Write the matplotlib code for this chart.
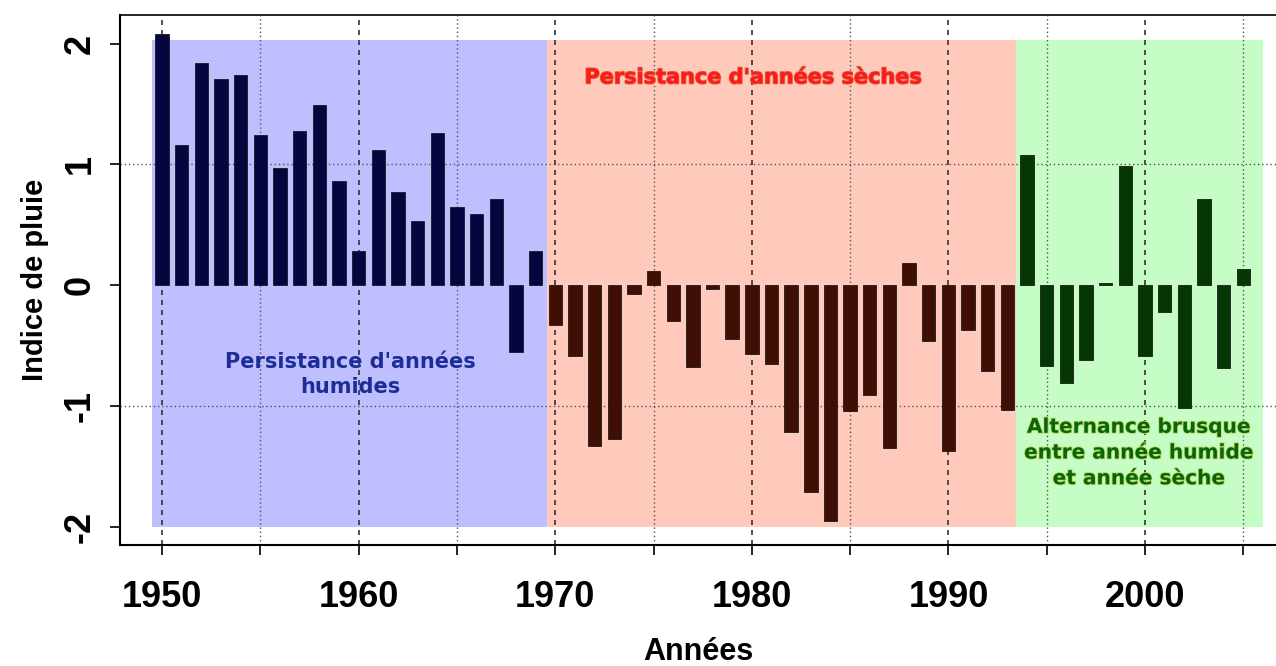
import numpy as np
import matplotlib.pyplot as plt
from matplotlib import font_manager
import matplotlib.patheffects as pe

# Indice de pluie annuel
annees = list(range(1950, 2006))
indice = [2.08, 1.16, 1.84, 1.71, 1.74, 1.24, 0.97, 1.28, 1.49, 0.86,
          0.28, 1.12, 0.77, 0.53, 1.26, 0.65, 0.59, 0.71, -0.55, 0.28,
          -0.33, -0.59, -1.33, -1.27, -0.07, 0.12, -0.30, -0.68, -0.03, -0.45,
          -0.57, -0.65, -1.22, -1.71, -1.95, -1.04, -0.91, -1.35, 0.18, -0.46,
          -1.37, -0.37, -0.71, -1.03,
          1.08, -0.67, -0.81, -0.62, 0.02, 0.99, -0.59, -0.22, -1.02, 0.71,
          -0.69, 0.13]

# Périodes (début, fin) et couleurs
periodes = [(1949.5, 1969.6), (1969.6, 1993.45), (1993.45, 2006.0)]
fonds = ['#bfbfff', '#ffc9bb', '#c6fcc6']
couleurs_barres = ['#05053f', '#3f0e05', '#053705']

textes = ["Persistance d'années\nhumides",
          "Persistance d'années sèches",
          "Alternance brusque\nentre année humide\net année sèche"]
couleurs_textes = ['#1c2c98', '#ff1a1a', '#0a640a']

yticks = [-2, -1, 0, 1, 2]
xticks_maj = [1950, 1960, 1970, 1980, 1990, 2000]

installees = {f.name for f in font_manager.fontManager.ttflist}
narrow = 'Liberation Sans Narrow' in installees

fig = plt.figure(figsize=(12.76, 6.66), dpi=100)
ax = fig.add_axes([0.094, 0.182, 0.906, 0.796])

# fonds colorés
for (a, b), c in zip(periodes, fonds):
    ax.fill_between([a, b], -2.0, 2.03, color=c, lw=0, zorder=0)

# grilles
for x in range(1950, 2010, 5):
    if x % 10 == 0:
        ax.axvline(x, color='#333333', lw=1.2, ls=(0, (3, 3)), zorder=1)
    else:
        ax.axvline(x, color='#555555', lw=1.0, ls=(0, (1, 2)), zorder=1)
for y in [-1, 1]:
    ax.axhline(y, color='#555555', lw=1.0, ls=(0, (1, 2)), zorder=1)

# barres
cols = []
for an in annees:
    for (a, b), c in zip(periodes, couleurs_barres):
        if a <= an < b:
            cols.append(c)
ax.bar(annees, indice, width=0.68, color=cols, edgecolor='#1a1a1a',
       linewidth=0.6, zorder=2)

# annotations
ax.text(1959.6, -0.74, textes[0], color=couleurs_textes[0], fontsize=15,
        fontweight='bold', ha='center', va='center', linespacing=1.35, zorder=3)
ax.text(1980.1, 1.72, textes[1], color=couleurs_textes[1], fontsize=15,
        fontweight='bold', ha='center', va='center', zorder=3,
        path_effects=[pe.withStroke(linewidth=1.2, foreground='#e06040')])
ax.text(1999.7, -1.39, textes[2], color=couleurs_textes[2], fontsize=14.5,
        fontweight='bold', ha='center', va='center', linespacing=1.45, zorder=3,
        path_effects=[pe.withStroke(linewidth=1.2, foreground='#b8d860')])

ax.set_xlim(1947.86, 2006.66)
ax.set_ylim(-2.15, 2.24)

ax.set_xticks(list(range(1950, 2010, 5)))
ax.set_xticklabels([str(x) if x in xticks_maj else '' for x in range(1950, 2010, 5)])
ax.set_yticks(yticks)
ax.set_yticklabels([str(v) for v in yticks])

if narrow:
    xfam, xsize = ['Liberation Sans Narrow', 'DejaVu Sans'], 30
else:
    xfam, xsize = ['Liberation Sans', 'DejaVu Sans'], 26
for lab in ax.get_xticklabels():
    lab.set_fontfamily(xfam)
    lab.set_fontsize(xsize)
    lab.set_fontweight('bold')
for lab in ax.get_yticklabels():
    lab.set_fontfamily(['Liberation Sans', 'DejaVu Sans'])
    lab.set_fontsize(26)
    lab.set_fontweight('bold')
    lab.set_rotation(90)
    lab.set_va('center')

ax.tick_params(axis='x', direction='out', length=7, width=1.2, pad=18)
ax.tick_params(axis='y', direction='out', length=7, width=1.2, pad=9)

ax.set_xlabel('Années', fontsize=22, fontweight='bold',
              fontfamily=['Liberation Sans', 'DejaVu Sans'], labelpad=16)
ax.set_ylabel('Indice de pluie', fontsize=21, fontweight='bold',
              fontfamily=['Liberation Sans', 'DejaVu Sans'], labelpad=10)

ax.spines['right'].set_visible(False)
ax.spines['left'].set_linewidth(1.5)
ax.spines['bottom'].set_linewidth(1.5)
ax.spines['top'].set_linewidth(1.2)

fig.savefig('out.png', dpi=100)
